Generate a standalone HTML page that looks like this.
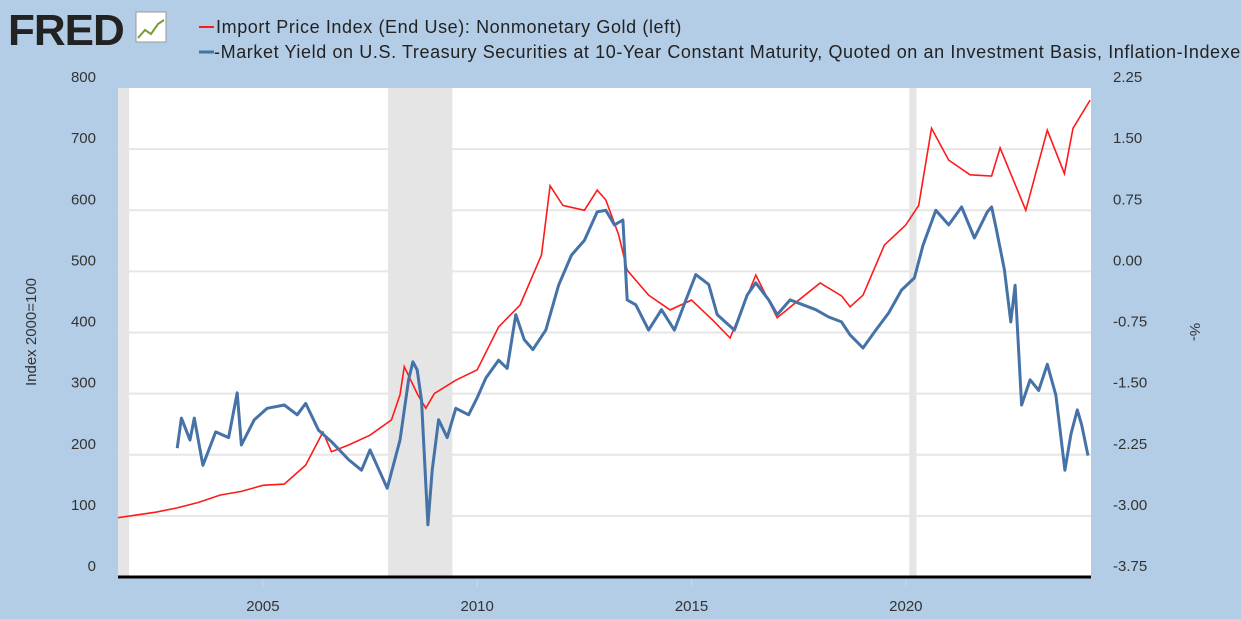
<!DOCTYPE html>
<html><head><meta charset="utf-8"><style>
body{margin:0;width:1241px;height:619px;background:#b4cde6;overflow:hidden;font-family:"Liberation Sans","DejaVu Sans",sans-serif;}
svg{position:absolute;left:0;top:0}
</style></head><body>
<svg id="c" width="1241" height="619"></svg>
<script>
const goldYears=[2001.62,2002.0,2002.5,2003.0,2003.5,2004.0,2004.5,2005.0,2005.5,2006.0,2006.4,2006.6,2007.0,2007.5,2008.0,2008.2,2008.3,2008.6,2008.8,2009.0,2009.5,2010.0,2010.5,2011.0,2011.5,2011.7,2012.0,2012.5,2012.8,2013.0,2013.3,2013.5,2014.0,2014.5,2015.0,2015.5,2015.9,2016.5,2017.0,2017.5,2018.0,2018.5,2018.7,2019.0,2019.5,2020.0,2020.3,2020.6,2021.0,2021.5,2022.0,2022.2,2022.8,2023.3,2023.7,2023.9,2024.3];
const goldValues=[97,101,106,113,122,134,140,150,152,183,237,205,216,232,257,298,344,300,276,300,322,339,409,445,527,640,608,600,633,617,560,502,461,437,453,420,391,494,424,453,481,460,442,461,543,576,608,734,682,658,656,702,600,731,660,734,780];
const tipsYears=[2003.0,2003.1,2003.3,2003.4,2003.6,2003.9,2004.2,2004.4,2004.5,2004.8,2005.1,2005.5,2005.8,2006.0,2006.3,2006.6,2007.0,2007.3,2007.5,2007.9,2008.2,2008.4,2008.5,2008.6,2008.7,2008.85,2008.95,2009.1,2009.3,2009.5,2009.8,2010.0,2010.2,2010.5,2010.7,2010.9,2011.1,2011.3,2011.6,2011.9,2012.2,2012.5,2012.8,2013.0,2013.2,2013.4,2013.5,2013.7,2014.0,2014.3,2014.6,2014.9,2015.1,2015.4,2015.6,2016.0,2016.3,2016.5,2016.8,2017.0,2017.3,2017.6,2017.9,2018.2,2018.5,2018.7,2019.0,2019.3,2019.6,2019.9,2020.2,2020.4,2020.7,2021.0,2021.3,2021.6,2021.9,2022.0,2022.1,2022.3,2022.45,2022.55,2022.7,2022.9,2023.1,2023.3,2023.5,2023.71,2023.85,2024.0,2024.1,2024.25];
const tipsValues=[-2.17,-1.80,-2.07,-1.80,-2.38,-1.97,-2.04,-1.49,-2.13,-1.82,-1.68,-1.64,-1.76,-1.62,-1.95,-2.09,-2.31,-2.44,-2.19,-2.66,-2.07,-1.33,-1.11,-1.21,-1.58,-3.11,-2.44,-1.82,-2.04,-1.68,-1.76,-1.55,-1.31,-1.09,-1.19,-0.53,-0.84,-0.96,-0.72,-0.17,0.20,0.38,0.73,0.75,0.57,0.63,-0.35,-0.41,-0.72,-0.47,-0.72,-0.31,-0.04,-0.16,-0.53,-0.72,-0.29,-0.14,-0.35,-0.53,-0.35,-0.41,-0.47,-0.56,-0.62,-0.78,-0.94,-0.72,-0.51,-0.23,-0.08,0.32,0.75,0.57,0.79,0.41,0.73,0.79,0.55,0.02,-0.62,-0.17,-1.64,-1.33,-1.46,-1.14,-1.52,-2.44,-2.0,-1.70,-1.88,-2.26];
const leftTicks=[0,100,200,300,400,500,600,700,800];
const rightTicks=["-3.75","-3.00","-2.25","-1.50","-0.75","0.00","0.75","1.50","2.25"];
const xTicks=[2005,2010,2015,2020];
const recessions=[[2001.2,2001.88],[2007.92,2009.42],[2020.08,2020.25]];

const L=118,R=1091,T=88,B=577,Y0=2001.62,Y1=2024.32;
const xs=y=>L+(y-Y0)/(Y1-Y0)*(R-L);
const yl=v=>B-v/800*(B-T);
const yr=v=>B-(v+3.75)/6*(B-T);
const svg=document.getElementById('c');
const NS='http://www.w3.org/2000/svg';
function mk(tag,attrs,parent){const e=document.createElementNS(NS,tag);for(const k in attrs)e.setAttribute(k,attrs[k]);(parent||svg).appendChild(e);return e;}

let bg=mk('rect',{x:L,y:T,width:R-L,height:B-T,fill:'#fff'});


recessions.forEach(r=>{const a=Math.max(xs(r[0]),L),b=Math.min(xs(r[1]),R);
 const e=mk('rect',{x:a,y:T,width:b-a,height:B-T,fill:'#e5e5e5'});
 
 });
leftTicks.forEach((v,i)=>{const y=yl(v);
 if(v>0&&v<800){const g=mk('line',{x1:L,x2:R,y1:y,y2:y,stroke:'#e6e6e6','stroke-width':2});
  
  }
 const t=mk('text',{x:96,y:y-6,'text-anchor':'end','font-size':15,fill:'#333'});t.textContent=v;
 
 
 const t2=mk('text',{x:1113,y:y-6,'font-size':15,fill:'#333'});t2.textContent=rightTicks[i];
 
 });
xTicks.forEach(yr_=>{const x=xs(yr_);
 mk('line',{x1:x,x2:x,y1:B,y2:B+10,stroke:'#ccd6eb'});
 const t=mk('text',{x:x,y:611,'text-anchor':'middle','font-size':15,fill:'#333'});t.textContent=yr_;
 
 });
let ax=mk('line',{x1:L,x2:R,y1:B,y2:B,stroke:'#000','stroke-width':3});



function path(xsArr,vals,f){return xsArr.map((y,i)=>(i?'L':'M')+xs(y).toFixed(1)+','+f(vals[i]).toFixed(1)).join('');}
let p1=mk('path',{d:path(goldYears,goldValues,yl),fill:'none',stroke:'#ff1a1a','stroke-width':1.6});


let p2=mk('path',{d:path(tipsYears,tipsValues,yr),fill:'none',stroke:'#4572a7','stroke-width':3,'stroke-linejoin':'round'});



let yt=mk('text',{x:36,y:332,'text-anchor':'middle','font-size':15,fill:'#333',transform:'rotate(-90 36 332)'});yt.textContent='Index 2000=100';


let yt2=mk('text',{x:1190,y:332,'text-anchor':'middle','font-size':15,fill:'#333',transform:'rotate(90 1190 332)'});yt2.textContent='%-';



let logo=mk('text',{x:8,y:45,'font-size':44,'font-weight':'bold',fill:'#222','letter-spacing':'-1'});logo.textContent='FRED';


let ic=mk('g',{});


mk('rect',{x:136,y:12,width:30,height:30,fill:'#fff',stroke:'#999'},ic);
mk('polyline',{points:'138,38 145,30 151,34 158,24 164,20',fill:'none',stroke:'#7a9a3a','stroke-width':2},ic);
mk('line',{x1:199,x2:214,y1:27,y2:27,stroke:'#ff1a1a','stroke-width':2});
let l1=mk('text',{x:216,y:33,'font-size':18,fill:'#222','letter-spacing':'0.6'});l1.textContent='Import Price Index (End Use): Nonmonetary Gold (left)';


mk('line',{x1:199,x2:214,y1:52,y2:52,stroke:'#4572a7','stroke-width':3});
let l2=mk('text',{x:214,y:58,'font-size':18,fill:'#222','letter-spacing':'0.6'});l2.textContent='-Market Yield on U.S. Treasury Securities at 10-Year Constant Maturity, Quoted on an Investment Basis, Inflation-Indexed';


</script>
</body></html>
